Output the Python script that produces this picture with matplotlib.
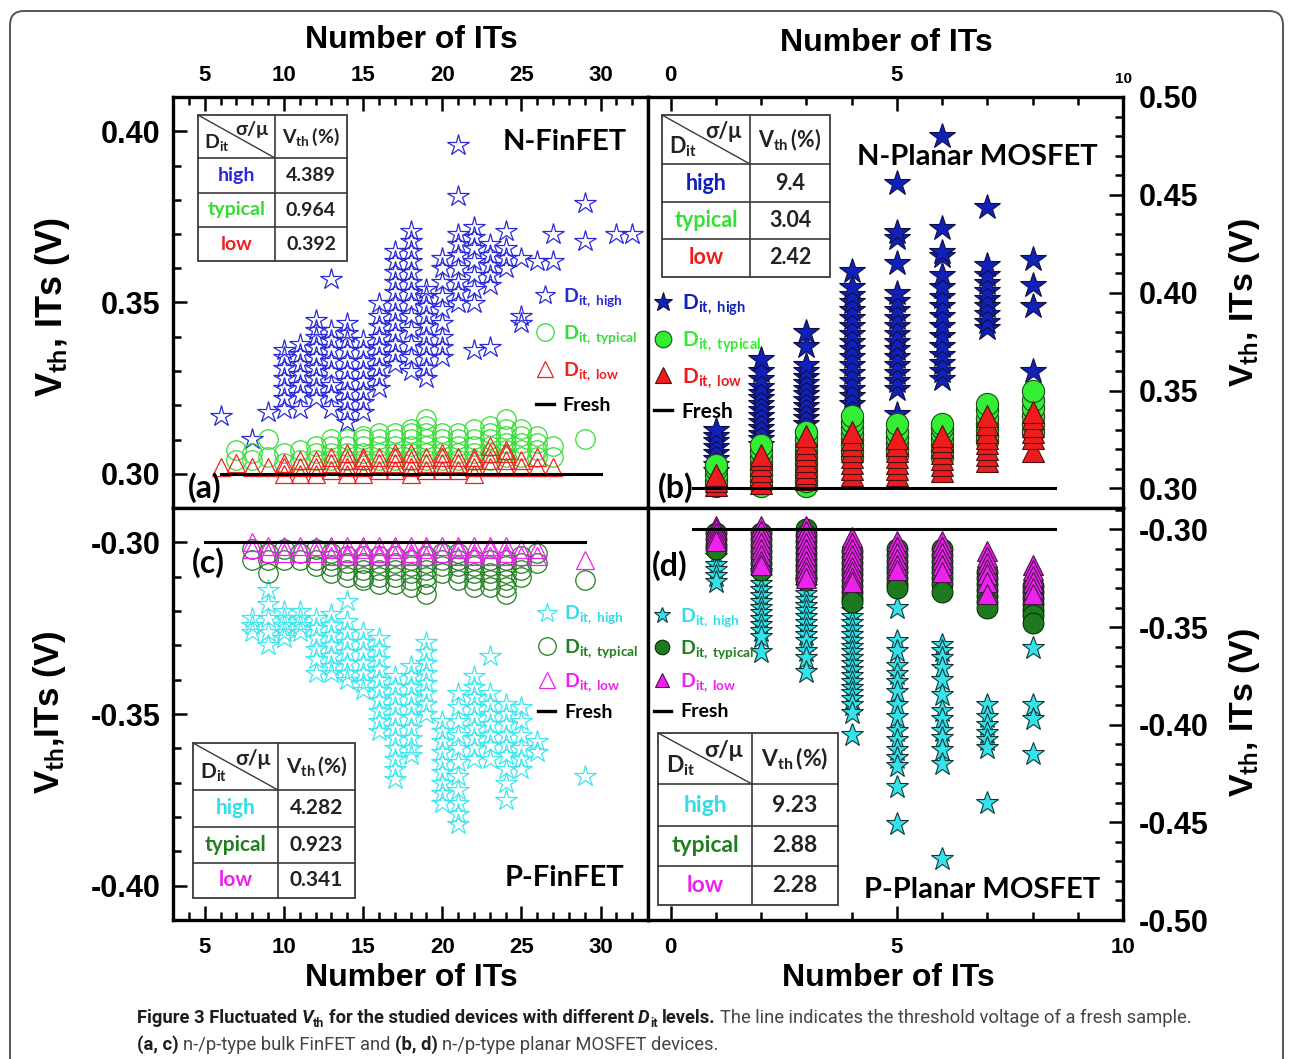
import numpy as np
import matplotlib
matplotlib.use("Agg")
import matplotlib.pyplot as plt
from matplotlib.lines import Line2D
from matplotlib.patches import Rectangle, FancyBboxPatch
from matplotlib.ticker import MultipleLocator, FormatStrFormatter
from matplotlib.transforms import IdentityTransform

W, H = 1292, 1059

plt.rcParams['font.family'] = ['Liberation Sans', 'DejaVu Sans']
plt.rcParams['font.weight'] = 'bold'
plt.rcParams['mathtext.fontset'] = 'custom'
plt.rcParams['mathtext.rm'] = 'Lato:bold'
plt.rcParams['mathtext.bf'] = 'Lato:bold'
plt.rcParams['mathtext.it'] = 'Lato:bold:italic'

LATO = ['Lato', 'DejaVu Sans']

# ---------------- data ----------------
# (a) N-FinFET, Number of ITs vs Vth (V)
a_high_its = [6, 8, 9, 10, 11, 12, 13, 14, 15, 16, 17, 18, 19, 20, 21, 22, 23, 24, 25, 26, 27, 29, 31, 32]
a_high_vth = [[0.317], [0.310], [0.318],
              [0.319, 0.322, 0.325, 0.328, 0.331, 0.334, 0.336],
              [0.319, 0.323, 0.326, 0.329, 0.332, 0.335, 0.338],
              [0.322, 0.325, 0.328, 0.331, 0.334, 0.337, 0.340, 0.342, 0.345],
              [0.319, 0.323, 0.326, 0.330, 0.333, 0.336, 0.339, 0.342, 0.357],
              [0.315, 0.318, 0.321, 0.324, 0.327, 0.330, 0.333, 0.336, 0.339, 0.341, 0.344],
              [0.318, 0.321, 0.324, 0.327, 0.330, 0.333, 0.336, 0.339],
              [0.325, 0.328, 0.331, 0.334, 0.337, 0.340, 0.343, 0.346, 0.350],
              [0.332, 0.335, 0.338, 0.341, 0.344, 0.347, 0.350, 0.353, 0.356, 0.359, 0.362, 0.365],
              [0.330, 0.334, 0.338, 0.342, 0.346, 0.350, 0.353, 0.356, 0.359, 0.362, 0.365, 0.368, 0.371],
              [0.328, 0.331, 0.334, 0.337, 0.340, 0.343, 0.346, 0.349, 0.352, 0.354],
              [0.334, 0.337, 0.340, 0.344, 0.348, 0.352, 0.356, 0.360, 0.363],
              [0.350, 0.353, 0.356, 0.360, 0.364, 0.367, 0.370, 0.381, 0.396],
              [0.336, 0.350, 0.354, 0.358, 0.362, 0.366, 0.369, 0.372],
              [0.337, 0.355, 0.358, 0.361, 0.364, 0.367],
              [0.360, 0.363, 0.366, 0.371],
              [0.344, 0.346, 0.363], [0.362], [0.362, 0.370], [0.368, 0.379], [0.370], [0.370]]
a_typ_its = [7, 8, 9, 10, 11, 12, 13, 14, 15, 16, 17, 18, 19, 20, 21, 22, 23, 24, 25, 26, 27, 29]
a_typ_vth = [[0.304, 0.307], [0.304, 0.306], [0.305, 0.310], [0.303, 0.306], [0.304, 0.307],
             [0.304, 0.306, 0.308], [0.304, 0.306, 0.308, 0.310], [0.304, 0.306, 0.308, 0.310],
             [0.304, 0.306, 0.308, 0.310, 0.311], [0.304, 0.306, 0.308, 0.310, 0.312],
             [0.304, 0.306, 0.308, 0.310, 0.312], [0.304, 0.306, 0.308, 0.310, 0.312, 0.313],
             [0.304, 0.306, 0.308, 0.310, 0.312, 0.314, 0.316], [0.304, 0.306, 0.308, 0.310, 0.312],
             [0.304, 0.306, 0.308, 0.310, 0.312], [0.304, 0.306, 0.308, 0.310, 0.313],
             [0.304, 0.306, 0.308, 0.310, 0.312, 0.314], [0.305, 0.307, 0.309, 0.311, 0.313, 0.316],
             [0.305, 0.307, 0.309, 0.311, 0.313], [0.305, 0.307, 0.309, 0.311], [0.305, 0.308], [0.310]]
a_low_its = [6, 7, 8, 9, 10, 11, 12, 13, 14, 15, 16, 17, 18, 19, 20, 21, 22, 23, 24, 25, 26, 27]
a_low_vth = [[0.302], [0.303], [0.302], [0.302], [0.300, 0.302, 0.303], [0.300, 0.302, 0.304],
             [0.300, 0.302, 0.304], [0.301, 0.303, 0.305], [0.300, 0.302, 0.304, 0.306],
             [0.300, 0.302, 0.304, 0.305], [0.301, 0.303, 0.305], [0.301, 0.303, 0.305, 0.306],
             [0.300, 0.302, 0.304, 0.306], [0.301, 0.303, 0.305], [0.301, 0.303, 0.305, 0.306],
             [0.301, 0.303, 0.305], [0.300, 0.302, 0.304, 0.305], [0.302, 0.304, 0.306, 0.308],
             [0.302, 0.304, 0.306, 0.307], [0.302, 0.304], [0.302, 0.305], [0.302]]
a_fresh_its = [6, 30]
a_fresh_vth = 0.300

# (b) N-Planar MOSFET
b_its = [1, 2, 3, 4, 5, 6, 7, 8]
b_high_vth = [[0.309, 0.312, 0.315, 0.318, 0.321, 0.324, 0.327, 0.330],
              [0.322, 0.325, 0.328, 0.331, 0.334, 0.337, 0.340, 0.343, 0.346, 0.349, 0.352, 0.356, 0.360, 0.366],
              [0.333, 0.336, 0.339, 0.342, 0.345, 0.348, 0.351, 0.354, 0.357, 0.360, 0.363, 0.373, 0.380],
              [0.343, 0.347, 0.351, 0.355, 0.359, 0.363, 0.367, 0.371, 0.375, 0.379, 0.383, 0.387, 0.391,
               0.395, 0.399, 0.403, 0.411],
              [0.338, 0.351, 0.355, 0.359, 0.363, 0.367, 0.371, 0.375, 0.379, 0.383, 0.387, 0.391, 0.396,
               0.400, 0.415, 0.428, 0.431, 0.456],
              [0.356, 0.360, 0.364, 0.368, 0.373, 0.378, 0.383, 0.388, 0.393, 0.398, 0.403, 0.409, 0.419,
               0.421, 0.433, 0.480],
              [0.382, 0.385, 0.389, 0.393, 0.397, 0.401, 0.405, 0.409, 0.414, 0.444],
              [0.360, 0.393, 0.404, 0.417]]
b_typ_vth = [[0.301, 0.304, 0.307, 0.310, 0.312],
             [0.301, 0.304, 0.307, 0.310, 0.313, 0.316, 0.319, 0.322],
             [0.301, 0.304, 0.307, 0.310, 0.313, 0.316, 0.319, 0.322, 0.325, 0.329],
             [0.316, 0.319, 0.322, 0.325, 0.328, 0.331, 0.334, 0.337],
             [0.317, 0.320, 0.323, 0.326, 0.329, 0.333],
             [0.316, 0.319, 0.322, 0.325, 0.328, 0.331, 0.333],
             [0.324, 0.327, 0.330, 0.333, 0.336, 0.340, 0.343],
             [0.329, 0.333, 0.337, 0.341, 0.345, 0.350]]
b_low_vth = [[0.302, 0.304, 0.307],
             [0.303, 0.306, 0.309, 0.312, 0.315, 0.317],
             [0.305, 0.308, 0.311, 0.314, 0.317, 0.320, 0.323, 0.327],
             [0.307, 0.310, 0.313, 0.316, 0.319, 0.322, 0.325, 0.329],
             [0.307, 0.310, 0.313, 0.316, 0.319, 0.322, 0.326],
             [0.309, 0.312, 0.315, 0.318, 0.321, 0.324, 0.327],
             [0.314, 0.317, 0.320, 0.323, 0.326, 0.329, 0.333, 0.337],
             [0.319, 0.326, 0.329, 0.332, 0.336, 0.339]]
b_fresh_its = [0.5, 8.5]
b_fresh_vth = 0.300

# (c) P-FinFET
c_high_its = [8, 9, 10, 11, 12, 13, 14, 15, 16, 17, 18, 19, 20, 21, 22, 23, 24, 25, 26, 29]
c_high_vth = [[-0.322, -0.324, -0.326], [-0.314, -0.318, -0.322, -0.326, -0.330],
              [-0.320, -0.322, -0.324, -0.326, -0.328], [-0.320, -0.322, -0.324, -0.326],
              [-0.322, -0.325, -0.328, -0.331, -0.334, -0.338],
              [-0.321, -0.324, -0.327, -0.330, -0.333, -0.336, -0.338],
              [-0.317, -0.323, -0.326, -0.329, -0.332, -0.335, -0.338, -0.340],
              [-0.326, -0.329, -0.332, -0.335, -0.338, -0.341, -0.343],
              [-0.328, -0.331, -0.334, -0.337, -0.340, -0.343, -0.346, -0.349, -0.352, -0.355],
              [-0.339, -0.342, -0.345, -0.348, -0.351, -0.354, -0.357, -0.360, -0.363, -0.366, -0.369],
              [-0.336, -0.339, -0.342, -0.345, -0.348, -0.351, -0.354, -0.357, -0.360, -0.362],
              [-0.329, -0.332, -0.335, -0.338, -0.341, -0.344, -0.347, -0.350],
              [-0.352, -0.355, -0.358, -0.361, -0.364, -0.367, -0.370, -0.373, -0.376],
              [-0.344, -0.348, -0.352, -0.356, -0.360, -0.364, -0.368, -0.372, -0.376, -0.379, -0.382],
              [-0.339, -0.342, -0.345, -0.348, -0.351, -0.354, -0.357, -0.360, -0.363],
              [-0.333, -0.344, -0.347, -0.350, -0.353, -0.356, -0.359, -0.363],
              [-0.347, -0.350, -0.353, -0.356, -0.359, -0.362, -0.366, -0.370, -0.375],
              [-0.348, -0.352, -0.356, -0.360, -0.363, -0.366],
              [-0.358, -0.361], [-0.368]]
c_typ_its = [8, 9, 10, 11, 12, 13, 14, 15, 16, 17, 18, 19, 20, 21, 22, 23, 24, 25, 26, 29]
c_typ_vth = [[-0.302, -0.305], [-0.303, -0.305, -0.309], [-0.302, -0.305], [-0.303, -0.305],
             [-0.302, -0.305, -0.307], [-0.303, -0.305, -0.307, -0.309],
             [-0.304, -0.306, -0.308, -0.310], [-0.304, -0.306, -0.308, -0.310, -0.311],
             [-0.304, -0.306, -0.308, -0.310, -0.312], [-0.304, -0.306, -0.308, -0.310, -0.312],
             [-0.305, -0.307, -0.309, -0.311, -0.313], [-0.304, -0.306, -0.308, -0.310, -0.312, -0.315],
             [-0.303, -0.305, -0.307, -0.309], [-0.303, -0.305, -0.307, -0.309, -0.311],
             [-0.305, -0.307, -0.309, -0.311, -0.313], [-0.305, -0.307, -0.309, -0.311, -0.313],
             [-0.305, -0.307, -0.309, -0.311, -0.313, -0.315], [-0.304, -0.306, -0.308, -0.310],
             [-0.303, -0.306], [-0.311]]
c_low_its = [8, 9, 10, 11, 12, 13, 14, 15, 16, 17, 18, 19, 20, 21, 22, 23, 24, 25, 26, 29]
c_low_vth = [[-0.300, -0.302], [-0.301, -0.303], [-0.301, -0.303], [-0.301, -0.303],
             [-0.301, -0.303], [-0.301, -0.302, -0.304], [-0.301, -0.303, -0.304],
             [-0.301, -0.302, -0.304], [-0.301, -0.303, -0.304], [-0.301, -0.302, -0.304],
             [-0.301, -0.303, -0.304], [-0.301, -0.302, -0.304], [-0.301, -0.303],
             [-0.301, -0.302, -0.304], [-0.301, -0.303, -0.304], [-0.301, -0.302, -0.304],
             [-0.301, -0.303, -0.304], [-0.302, -0.304], [-0.302, -0.304], [-0.305]]
c_fresh_its = [5, 29]
c_fresh_vth = -0.300

# (d) P-Planar MOSFET
d_its = [1, 2, 3, 4, 5, 6, 7, 8]
d_high_vth = [[-0.314, -0.318, -0.321, -0.324, -0.327],
              [-0.322, -0.325, -0.328, -0.331, -0.334, -0.337, -0.340, -0.343, -0.346, -0.349, -0.352,
               -0.355, -0.3625],
              [-0.327, -0.330, -0.333, -0.336, -0.339, -0.342, -0.345, -0.348, -0.351, -0.354, -0.357,
               -0.362, -0.366, -0.373],
              [-0.342, -0.345, -0.348, -0.351, -0.354, -0.357, -0.360, -0.363, -0.366, -0.369, -0.372,
               -0.375, -0.378, -0.381, -0.384, -0.387, -0.390, -0.394, -0.405],
              [-0.340, -0.357, -0.362, -0.370, -0.374, -0.378, -0.383, -0.390, -0.396, -0.403, -0.408,
               -0.413, -0.417, -0.421, -0.432, -0.451],
              [-0.359, -0.362, -0.366, -0.371, -0.377, -0.385, -0.393, -0.397, -0.403, -0.407, -0.413,
               -0.420, -0.469],
              [-0.390, -0.396, -0.400, -0.404, -0.408, -0.412, -0.440],
              [-0.3605, -0.390, -0.397, -0.415]]
d_typ_vth = [[-0.302, -0.305, -0.308, -0.310],
             [-0.302, -0.305, -0.308, -0.311, -0.314, -0.317, -0.321],
             [-0.300, -0.303, -0.306, -0.309, -0.312, -0.315, -0.318, -0.321, -0.324, -0.326],
             [-0.311, -0.314, -0.317, -0.320, -0.323, -0.326, -0.329, -0.332, -0.335, -0.337],
             [-0.310, -0.313, -0.316, -0.319, -0.322, -0.325, -0.328, -0.330],
             [-0.310, -0.313, -0.316, -0.319, -0.322, -0.325, -0.328, -0.332],
             [-0.322, -0.325, -0.328, -0.331, -0.334, -0.337, -0.340],
             [-0.329, -0.332, -0.335, -0.338, -0.341, -0.344, -0.348]]
d_low_vth = [[-0.298, -0.300, -0.302, -0.304, -0.306],
             [-0.298, -0.301, -0.304, -0.307, -0.310, -0.313, -0.316, -0.318],
             [-0.298, -0.301, -0.304, -0.307, -0.310, -0.313, -0.316, -0.319, -0.322, -0.325],
             [-0.304, -0.307, -0.310, -0.313, -0.316, -0.319, -0.322, -0.325, -0.327],
             [-0.306, -0.309, -0.312, -0.315, -0.318, -0.321],
             [-0.306, -0.309, -0.312, -0.315, -0.318, -0.322],
             [-0.311, -0.314, -0.317, -0.320, -0.323, -0.327, -0.333],
             [-0.318, -0.321, -0.324, -0.327, -0.330, -0.333]]
d_fresh_its = [0.5, 8.5]
d_fresh_vth = -0.300

# inset tables: sigma/mu of Vth (%)
levels = ['high', 'typical', 'low']
tab_a_vals = ['4.389', '0.964', '0.392']
tab_b_vals = ['9.4', '3.04', '2.42']
tab_c_vals = ['4.282', '0.923', '0.341']
tab_d_vals = ['9.23', '2.88', '2.28']

# colours
BLUE, LIME, RED = '#2a2ad8', '#35dd35', '#ee2222'
CYAN, DGREEN, MAGENTA = '#3ee6ee', '#217f21', '#ee22ee'
NBLUE = '#1020b8'

# ---------------- figure ----------------
fig = plt.figure(figsize=(W / 100, H / 100), dpi=100)
ax_a = fig.add_axes([173 / W, 1 - 508 / H, 475 / W, 411 / H])
ax_b = fig.add_axes([648 / W, 1 - 508 / H, 475 / W, 411 / H])
ax_c = fig.add_axes([173 / W, 1 - 920 / H, 475 / W, 412 / H])
ax_d = fig.add_axes([648 / W, 1 - 920 / H, 475 / W, 412 / H])


def cols(ax, its, vth, marker, ms, color, filled=False, edge='k'):
    xs = np.repeat(its, [len(v) for v in vth])
    ys = np.concatenate(vth)
    if filled:
        ln, = ax.plot(xs, ys, ls='none', marker=marker, ms=ms, mfc=color, mec=edge, mew=0.8)
    else:
        ln, = ax.plot(xs, ys, ls='none', marker=marker, ms=ms, mfc='none', mec=color, mew=0.9)
    return ln


def fresh(ax, its, v):
    ax.plot(its, [v, v], color='k', lw=2.2)
    return Line2D([], [], color='k', lw=2.4)


# (a)
h1 = cols(ax_a, a_high_its, a_high_vth, '*', 16, BLUE)
h2 = cols(ax_a, a_typ_its, a_typ_vth, 'o', 14, LIME)
h3 = cols(ax_a, a_low_its, a_low_vth, '^', 13.5, RED)
h4 = fresh(ax_a, a_fresh_its, a_fresh_vth)
hand_a = [h1, h2, h3, h4]

# (b)
h1 = cols(ax_b, b_its, b_high_vth, '*', 19, NBLUE, True, '#101040')
h2 = cols(ax_b, b_its, b_typ_vth, 'o', 16, '#33ee33', True, '#1e4a1e')
h3 = cols(ax_b, b_its, b_low_vth, '^', 16, '#ee1c1c', True, '#4a1010')
h4 = fresh(ax_b, b_fresh_its, b_fresh_vth)
hand_b = [h1, h2, h3, h4]

# (c)
h1 = cols(ax_c, c_high_its, c_high_vth, '*', 16, CYAN)
h2 = cols(ax_c, c_typ_its, c_typ_vth, 'o', 14, DGREEN)
h3 = cols(ax_c, c_low_its, c_low_vth, '^', 13.5, MAGENTA)
h4 = fresh(ax_c, c_fresh_its, c_fresh_vth)
hand_c = [h1, h2, h3, h4]

# (d)
h1 = cols(ax_d, d_its, d_high_vth, '*', 17, '#33e2ea', True, '#103838')
h2 = cols(ax_d, d_its, d_typ_vth, 'o', 15, '#1d7a1d', True, '#0a300a')
h3 = cols(ax_d, d_its, d_low_vth, '^', 15, '#ee22ee', True, '#4a104a')
h4 = fresh(ax_d, d_fresh_its, d_fresh_vth)
hand_d = [h1, h2, h3, h4]

# axes limits and ticks
ax_a.set_xlim(3, 33)
ax_c.set_xlim(3, 33)
ax_b.set_xlim(-0.5, 10)
ax_d.set_xlim(-0.5, 10)
ax_a.set_ylim(0.29, 0.41)
ax_c.set_ylim(-0.41, -0.29)
ax_b.set_ylim(0.29, 0.50)
ax_d.set_ylim(-0.50, -0.289)

for ax in (ax_a, ax_b, ax_c, ax_d):
    ax.xaxis.set_major_locator(MultipleLocator(5))
    ax.xaxis.set_minor_locator(MultipleLocator(1))
    ax.yaxis.set_major_locator(MultipleLocator(0.05))
    ax.yaxis.set_minor_locator(MultipleLocator(0.01))
    ax.yaxis.set_major_formatter(FormatStrFormatter('%.2f'))
    ax.xaxis.set_major_formatter(FormatStrFormatter('%d'))
    for s in ax.spines.values():
        s.set_linewidth(2.4)

ax_a.tick_params(which='both', direction='in', width=1.8, top=True, bottom=False, left=True, right=False,
                 labeltop=True, labelbottom=False, labelleft=True, labelright=False)
ax_b.tick_params(which='both', direction='in', width=1.8, top=True, bottom=False, left=False, right=True,
                 labeltop=True, labelbottom=False, labelleft=False, labelright=True)
ax_c.tick_params(which='both', direction='in', width=1.8, top=False, bottom=True, left=True, right=False,
                 labeltop=False, labelbottom=True, labelleft=True, labelright=False)
ax_d.tick_params(which='both', direction='in', width=1.8, top=False, bottom=True, left=False, right=True,
                 labeltop=False, labelbottom=True, labelleft=False, labelright=True)
for ax in (ax_a, ax_b, ax_c, ax_d):
    ax.tick_params(which='major', length=10)
    ax.tick_params(which='minor', length=5.5)
    ax.tick_params(axis='x', labelsize=16)
    ax.tick_params(axis='y', labelsize=22)
ax_a.tick_params(axis='x', pad=8)
ax_a.tick_params(axis='y', pad=9)
ax_b.tick_params(axis='x', pad=8)
ax_b.tick_params(axis='y', pad=11)
ax_c.tick_params(axis='x', pad=12)
ax_c.tick_params(axis='y', pad=9)
ax_d.tick_params(axis='x', pad=12)
ax_d.tick_params(axis='y', pad=11)

fig.canvas.draw()
for t in ax_b.xaxis.get_major_ticks():
    if abs(t.get_loc() - 10) < 1e-6:
        t.label2.set_fontsize(11)


def ftext(x, y, s, **kw):
    return fig.text(x / W, 1 - y / H, s, **kw)


# axis titles
ftext(411, 40, 'Number of ITs', fontsize=23, ha='center', va='center')
ftext(886, 43, 'Number of ITs', fontsize=23, ha='center', va='center')
ftext(411, 978, 'Number of ITs', fontsize=23, ha='center', va='center')
ftext(888, 978, 'Number of ITs', fontsize=23, ha='center', va='center')
ftext(52, 307, r'V$_{\mathbf{th}}$, ITs (V)', fontsize=26, rotation=90, ha='center', va='center')
ftext(50, 712, r'V$_{\mathbf{th}}$,ITs (V)', fontsize=25, rotation=90, ha='center', va='center')
ftext(1245, 302, r'V$_{\mathbf{th}}$, ITs (V)', fontsize=24.5, rotation=90, ha='center', va='center')
ftext(1245, 712, r'V$_{\mathbf{th}}$, ITs (V)', fontsize=24.5, rotation=90, ha='center', va='center')

# panel titles and letters
ftext(565, 142, 'N-FinFET', fontsize=21, family=LATO, ha='center', va='center')
ftext(977, 157, 'N-Planar MOSFET', fontsize=21, family=LATO, ha='center', va='center')
ftext(564, 878, 'P-FinFET', fontsize=21, family=LATO, ha='center', va='center')
ftext(982, 890, 'P-Planar MOSFET', fontsize=21, family=LATO, ha='center', va='center')
ftext(205, 488, '(a)', fontsize=23, family=LATO, ha='center', va='center')
ftext(676, 488, '(b)', fontsize=23, family=LATO, ha='center', va='center')
ftext(208, 563, '(c)', fontsize=23, family=LATO, ha='center', va='center')
ftext(670, 566, '(d)', fontsize=23, family=LATO, ha='center', va='center')

# legends
lab_txt = [r'$\mathbf{D_{it,\ high}}$', r'$\mathbf{D_{it,\ typical}}$', r'$\mathbf{D_{it,\ low}}$', 'Fresh']


def legend(ax, handles, anchor, fs, colors, mscale, spacing):
    lg = ax.legend(handles, lab_txt, loc='upper left', bbox_to_anchor=anchor, frameon=False,
                   handlelength=0.9, handletextpad=0.45, labelspacing=spacing,
                   borderpad=0, borderaxespad=0, markerscale=mscale,
                   prop={'family': LATO, 'weight': 'bold', 'size': fs})
    for t, c in zip(lg.get_texts(), colors):
        t.set_color(c)
    return lg


legend(ax_a, hand_a, (0.765, 0.540), 14, [BLUE, LIME, RED, 'k'], 0.9, 0.72)
legend(ax_b, hand_b, (0.012, 0.525), 15, [NBLUE, '#33ee33', '#ee1c1c', 'k'], 0.75, 0.55)
legend(ax_c, hand_c, (0.768, 0.768), 14, ['#33dde8', DGREEN, MAGENTA, 'k'], 0.9, 0.55)
legend(ax_d, hand_d, (0.012, 0.763), 14, ['#33dde8', DGREEN, MAGENTA, 'k'], 0.7, 0.5)


# tables
def draw_table(cx, ry, vals, colors, fs):
    x0, x1, x2 = cx
    tf = fig.transFigure
    lc = '#3a3a3a'
    fig.add_artist(Rectangle((x0 / W, 1 - ry[-1] / H), (x2 - x0) / W, (ry[-1] - ry[0]) / H,
                             transform=tf, facecolor='white', edgecolor=lc, lw=1.3, zorder=5))
    for y in ry[1:-1]:
        fig.add_artist(Line2D([x0 / W, x2 / W], [1 - y / H, 1 - y / H], transform=tf,
                              color=lc, lw=1.2, zorder=6))
    fig.add_artist(Line2D([x1 / W, x1 / W], [1 - ry[0] / H, 1 - ry[-1] / H], transform=tf,
                          color=lc, lw=1.2, zorder=6))
    fig.add_artist(Line2D([x0 / W, x1 / W], [1 - ry[0] / H, 1 - ry[1] / H], transform=tf,
                          color=lc, lw=1.0, zorder=6))
    hh = ry[1] - ry[0]
    w1 = x1 - x0
    ftext(x0 + 0.24 * w1, ry[0] + 0.64 * hh, r'$\mathbf{D_{it}}$', fontsize=fs, ha='center',
          va='center', color='#222222', zorder=7)
    ftext(x0 + 0.70 * w1, ry[0] + 0.34 * hh, 'σ/μ', fontsize=fs, family=LATO, ha='center',
          va='center', color='#222222', zorder=7)
    ftext((x1 + x2) / 2, ry[0] + 0.5 * hh, r'$\mathbf{V_{th}\,(\%)}$', fontsize=fs, ha='center',
          va='center', color='#222222', zorder=7)
    for i in range(3):
        yc = (ry[i + 1] + ry[i + 2]) / 2
        ftext((x0 + x1) / 2, yc, levels[i], fontsize=fs, family=LATO, ha='center', va='center',
              color=colors[i], zorder=7)
        ftext((x1 + x2) / 2, yc, vals[i], fontsize=fs, family=LATO, ha='center', va='center',
              color='#222222', zorder=7)


draw_table([198, 275, 347], [115, 158, 193, 227, 261], tab_a_vals, [BLUE, LIME, RED], 14)
draw_table([662, 750, 830], [115, 164, 202, 239, 277], tab_b_vals, [NBLUE, '#33e033', '#ee1c1c'], 15.5)
draw_table([193, 278, 355], [743, 790, 827, 863, 898], tab_c_vals, ['#33dde8', DGREEN, MAGENTA], 15)
draw_table([658, 752, 838], [733, 784, 826, 866, 905], tab_d_vals, ['#33dde8', DGREEN, MAGENTA], 16.5)

# outer rounded frame
fig.add_artist(FancyBboxPatch((10, -30), 1273, 1048 + 30, boxstyle='round,pad=0,rounding_size=14',
                              transform=IdentityTransform(), facecolor='none', edgecolor='#555555',
                              lw=1.4, zorder=1))

# caption
cap_family = ['Roboto', 'DejaVu Sans']
DARK, GRAY = '#1e1e1e', '#444444'
line1 = [('Figure 3 Fluctuated', 'bold', 'normal', DARK, False, False),
         ('V', 'bold', 'italic', DARK, False, True),
         ('th', 'bold', 'normal', DARK, True, False),
         ('for the studied devices with different', 'bold', 'normal', DARK, False, True),
         ('D', 'bold', 'italic', DARK, False, True),
         ('it', 'bold', 'normal', DARK, True, False),
         ('levels.', 'bold', 'normal', DARK, False, True),
         ('The line indicates the threshold voltage of a fresh sample.', 'normal', 'normal', GRAY, False, True)]
line2 = [('(a, c)', 'bold', 'normal', DARK, False, False),
         ('n-/p-type bulk FinFET and', 'normal', 'normal', GRAY, False, True),
         ('(b, d)', 'bold', 'normal', DARK, False, True),
         ('n-/p-type planar MOSFET devices.', 'normal', 'normal', GRAY, False, True)]

renderer = fig.canvas.get_renderer()


def put_runs(runs, x0, y0, fs):
    x = x0
    arts = []
    for txt, wt, st, col, sub, gap in runs:
        if gap:
            x += 0.24 * fs * 100 / 72
        size = fs * 0.68 if sub else fs
        yy = y0 + (0.22 * fs * 100 / 72 if sub else 0)
        t = fig.text(x / W, 1 - yy / H, txt, fontsize=size, family=cap_family, fontweight=wt,
                     fontstyle=st, color=col, ha='left', va='baseline')
        x += t.get_window_extent(renderer).width
        arts.append(t)
    return x - x0, arts


wtest, arts = put_runs(line1, 137, 1023, 12)
for t in arts:
    t.remove()
cap_fs = 12 * 1053 / wtest
put_runs(line1, 137, 1023, cap_fs)
put_runs(line2, 137, 1050, cap_fs)

fig.savefig('out.png', dpi=100)
